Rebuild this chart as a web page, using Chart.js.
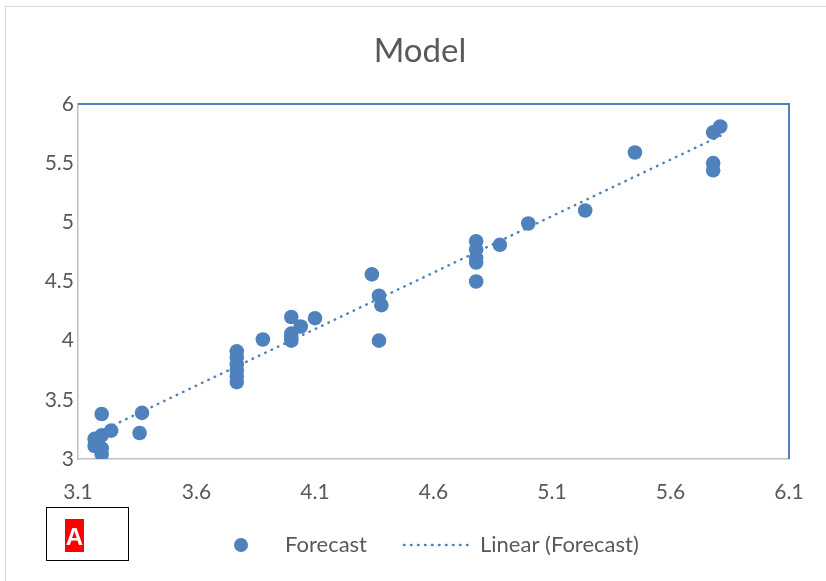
<!DOCTYPE html>
<html>
<head>
<meta charset="utf-8">
<script src="https://cdn.jsdelivr.net/npm/chart.js@4/dist/chart.umd.min.js"></script>
<style>
  html, body { margin: 0; padding: 0; background: #fff; }
  #wrap { position: relative; width: 826px; height: 581px; }
</style>
</head>
<body>
<div id="wrap"><canvas id="c" width="826" height="581"></canvas></div>
<script>
// Observed vs. forecast values
const forecastX = [3.17, 3.17, 3.20, 3.20, 3.20, 3.20, 3.24, 3.37, 3.36,
                   3.77, 3.77, 3.77, 3.77, 3.77, 3.77, 3.88,
                   4.00, 4.00, 4.00, 4.00, 4.04, 4.10,
                   4.34, 4.37, 4.38, 4.37,
                   4.78, 4.78, 4.78, 4.78, 4.78, 4.88,
                   5.00, 5.24, 5.45, 5.78, 5.81, 5.78, 5.78];
const forecastY = [3.17, 3.11, 3.20, 3.09, 3.04, 3.38, 3.24, 3.39, 3.22,
                   3.91, 3.86, 3.80, 3.75, 3.70, 3.65, 4.01,
                   4.20, 4.06, 4.03, 4.00, 4.12, 4.19,
                   4.56, 4.38, 4.30, 4.00,
                   4.84, 4.77, 4.70, 4.66, 4.50, 4.81,
                   4.99, 5.10, 5.59, 5.76, 5.81, 5.50, 5.44];

// Linear trend line end points
const trendX = [3.17, 5.82];
const trendY = [3.21, 5.74];

// Axis ticks
const xTicks = [3.1, 3.6, 4.1, 4.6, 5.1, 5.6, 6.1];
const yTicks = [3, 3.5, 4, 4.5, 5, 5.5, 6];

const titleText = 'Model';
const seriesName = 'Forecast';
const trendName = 'Linear (Forecast)';
const badgeText = 'A';

const BLUE = '#4f81bd';
const TEXT = '#595959';
const AXIS = '#bfbfbf';
const FONT = 'Lato';

Chart.defaults.font.family = FONT;
Chart.defaults.color = TEXT;

const DOT_DASH = [0.5, 6.5];

const decor = {
  id: 'decor',
  beforeDraw(chart) {
    const c = chart.ctx;
    c.save();
    c.fillStyle = '#ffffff';
    c.fillRect(0, 0, chart.width, chart.height);
    c.strokeStyle = '#d9d9d9';
    c.lineWidth = 1;
    c.strokeRect(5.5, 6.5, chart.width + 10, chart.height + 10);
    c.restore();
  },
  beforeDatasetsDraw(chart) {
    // plot-area frame: top and right edges
    const a = chart.chartArea;
    const c = chart.ctx;
    c.save();
    c.strokeStyle = BLUE;
    c.lineWidth = 2;
    c.beginPath();
    c.moveTo(a.left, a.top);
    c.lineTo(a.right, a.top);
    c.lineTo(a.right, a.bottom);
    c.stroke();
    c.restore();
  },
  afterDraw(chart) {
    const c = chart.ctx;
    c.save();
    // title
    c.fillStyle = TEXT;
    c.font = '33px ' + FONT;
    c.textAlign = 'center';
    c.textBaseline = 'alphabetic';
    c.fillText(titleText, 420, 62);

    // legend
    c.font = '22px ' + FONT;
    c.textAlign = 'left';
    c.fillStyle = BLUE;
    c.beginPath();
    c.arc(241, 545, 7, 0, Math.PI * 2);
    c.fill();
    c.fillStyle = TEXT;
    c.fillText(seriesName, 285, 552);

    c.strokeStyle = BLUE;
    c.lineWidth = 2.5;
    c.lineCap = 'round';
    c.setLineDash(DOT_DASH);
    c.beginPath();
    c.moveTo(404, 545);
    c.lineTo(470, 545);
    c.stroke();
    c.setLineDash([]);
    c.fillText(trendName, 480, 552);

    // badge
    c.lineCap = 'butt';
    c.strokeStyle = '#000000';
    c.lineWidth = 1;
    c.strokeRect(46.5, 507.5, 82, 53);
    c.fillStyle = '#ff0000';
    c.fillRect(65, 519, 19, 33);
    c.fillStyle = '#ffffff';
    c.font = 'bold 24px "Liberation Sans"';
    c.textAlign = 'center';
    c.fillText(badgeText, 74.5, 545);
    c.restore();
  }
};

const points = forecastX.map((x, i) => ({ x: x, y: forecastY[i] }));
const trend = trendX.map((x, i) => ({ x: x, y: trendY[i] }));

new Chart(document.getElementById('c'), {
  type: 'scatter',
  data: {
    datasets: [
      {
        label: trendName,
        data: trend,
        showLine: true,
        borderColor: BLUE,
        borderWidth: 2.5,
        borderDash: DOT_DASH,
        borderCapStyle: 'round',
        pointRadius: 0,
        pointHoverRadius: 0,
        fill: false,
        order: 0
      },
      {
        label: seriesName,
        data: points,
        backgroundColor: BLUE,
        borderColor: BLUE,
        borderWidth: 0,
        pointRadius: 7.3,
        pointHoverRadius: 7.3,
        order: 1
      }
    ]
  },
  options: {
    responsive: false,
    animation: false,
    events: [],
    layout: { padding: { top: 104, right: 37, left: 0, bottom: 0 } },
    plugins: {
      legend: { display: false },
      title: { display: false },
      tooltip: { enabled: false }
    },
    scales: {
      x: {
        type: 'linear',
        min: 3.1,
        max: 6.1,
        afterBuildTicks: s => { s.ticks = xTicks.map(v => ({ value: v })); },
        afterFit: s => { s.height = 122; },
        grid: { display: false, drawTicks: false },
        border: { display: true, color: AXIS, width: 1.5 },
        ticks: {
          font: { size: 21 },
          color: TEXT,
          padding: 21,
          maxRotation: 0,
          autoSkip: false,
          callback: v => String(v)
        }
      },
      y: {
        type: 'linear',
        min: 3,
        max: 6,
        afterBuildTicks: s => { s.ticks = yTicks.map(v => ({ value: v })); },
        afterFit: s => { s.width = 78; },
        grid: { display: false, drawTicks: false },
        border: { display: true, color: AXIS, width: 1.5 },
        ticks: {
          font: { size: 21 },
          color: TEXT,
          padding: 4,
          autoSkip: false,
          callback: v => String(v)
        }
      }
    }
  },
  plugins: [decor]
});
</script>
</body>
</html>
